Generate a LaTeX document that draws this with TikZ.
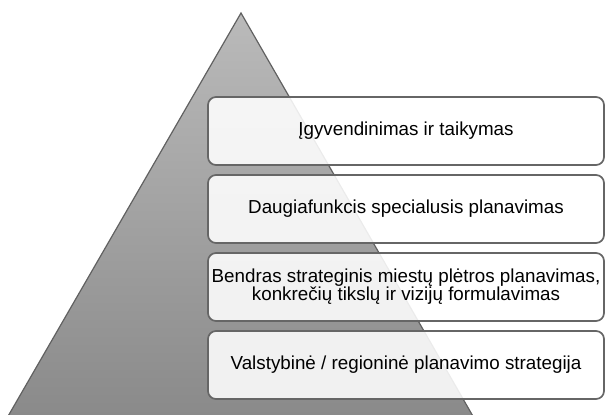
\documentclass[tikz,border=0pt]{standalone}
\usepackage{fontspec}
\setmainfont{Liberation Sans}
\def\levelfont{\fontsize{18.8}{18}\selectfont}

\begin{document}
\begin{tikzpicture}[x=1pt, y=-1pt,
    level/.style={draw=black!60, line width=1.7pt, rounded corners=8pt,
      fill=white, fill opacity=0.88, text opacity=1,
      minimum width=396pt, minimum height=68pt, align=center, font=\levelfont}]
  \useasboundingbox (0, 0) rectangle (608, 415);

  % pyramid
  \shadedraw [top color=black!27, bottom color=black!46, draw=black!62, line width=1.2pt]
    (241, 13) -- (474, 418) -- (7, 418) -- cycle;

  % levels, top to bottom
  \node[level] (apply) at (406, 131) {Įgyvendinimas ir taikymas};
  \node[level] (special) at (406, 209) {Daugiafunkcis specialusis planavimas};
  \node[level] (general) at (406, 287) {Bendras strateginis miestų plėtros planavimas,\\konkrečių tikslų ir vizijų formulavimas};
  \node[level] (state) at (406, 365) {Valstybinė / regioninė planavimo strategija};
\end{tikzpicture}
\end{document}
